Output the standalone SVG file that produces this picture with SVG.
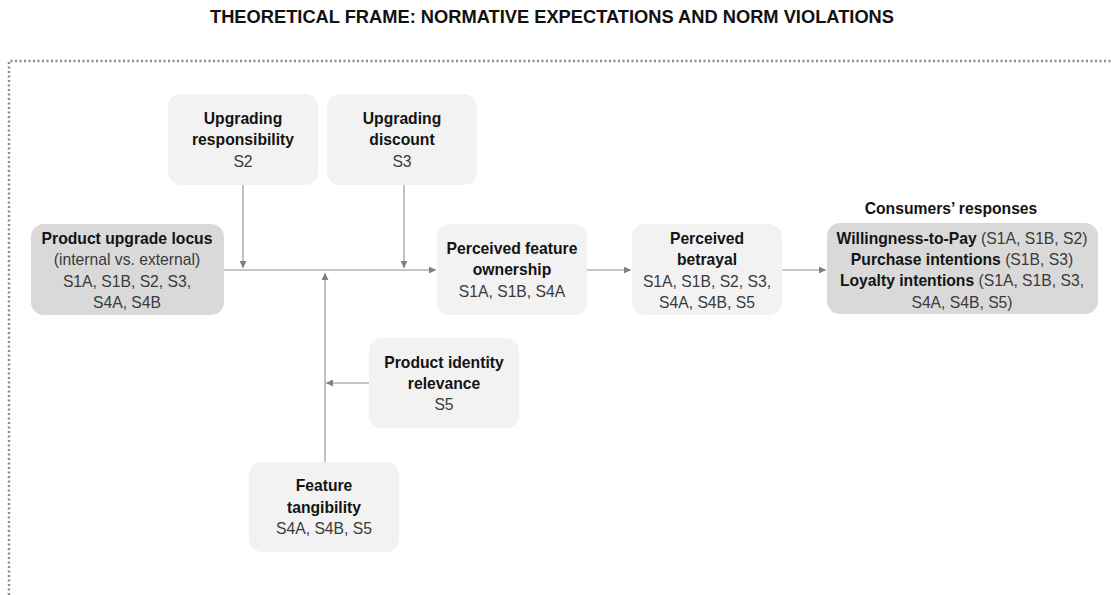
<svg xmlns="http://www.w3.org/2000/svg" width="1111" height="595" viewBox="0 0 1111 595">
<style>
text{font-family:"Liberation Sans",Arial,sans-serif;font-size:15.7px;text-anchor:middle;fill:#3a3a3a}
.b{font-weight:bold;fill:#141414}
.title{font-size:18px;font-weight:bold;fill:#111}
.light{fill:#f2f2f2}
.dark{fill:#d9d9d9}
.ln{stroke:#b3b3b3;stroke-width:1.6;fill:none}
.frame{stroke:#8c8c8c;stroke-width:2.5;stroke-dasharray:2 2.5;fill:none}
</style>
<defs>
<marker id="ah" viewBox="0 0 10 10" refX="10" refY="5" markerWidth="7" markerHeight="7" markerUnits="userSpaceOnUse" orient="auto"><path d="M0,0 L10,5 L0,10 Z" fill="#7f7f7f"/></marker>
</defs>
<rect width="1111" height="595" fill="#fff"/>
<text class="title" x="552" y="23" textLength="684" lengthAdjust="spacingAndGlyphs">THEORETICAL FRAME: NORMATIVE EXPECTATIONS AND NORM VIOLATIONS</text>
<path class="frame" d="M9,595 L9,61 L1111,61"/>

<g id="connectors">
<line class="ln" x1="224" y1="270" x2="436" y2="270" marker-end="url(#ah)"/>
<line class="ln" x1="243" y1="185" x2="243" y2="268" marker-end="url(#ah)"/>
<line class="ln" x1="404" y1="185" x2="404" y2="268" marker-end="url(#ah)"/>
<line class="ln" x1="325" y1="462" x2="325" y2="273" marker-end="url(#ah)"/>
<line class="ln" x1="369" y1="383" x2="326" y2="383" marker-end="url(#ah)"/>
<line class="ln" x1="587" y1="270" x2="631" y2="270" marker-end="url(#ah)"/>
<line class="ln" x1="782" y1="270" x2="826" y2="270" marker-end="url(#ah)"/>
</g>

<g id="upgrading-responsibility">
<rect class="light" x="168" y="94" width="150" height="91" rx="13"/>
<text class="b" x="243" y="124">Upgrading</text>
<text class="b" x="243" y="145">responsibility</text>
<text x="243" y="167">S2</text>
</g>

<g id="upgrading-discount">
<rect class="light" x="327" y="94" width="150" height="91" rx="13"/>
<text class="b" x="402" y="124">Upgrading</text>
<text class="b" x="402" y="145">discount</text>
<text x="402" y="167">S3</text>
</g>

<g id="product-upgrade-locus">
<rect class="dark" x="31" y="224" width="193" height="91" rx="13"/>
<text class="b" x="127" y="244">Product upgrade locus</text>
<text x="127" y="265">(internal vs. external)</text>
<text x="127" y="287">S1A, S1B, S2, S3,</text>
<text x="127" y="308">S4A, S4B</text>
</g>

<g id="perceived-feature-ownership">
<rect class="light" x="437" y="224" width="150" height="91" rx="13"/>
<text class="b" x="512" y="254">Perceived feature</text>
<text class="b" x="512" y="275">ownership</text>
<text x="512" y="297">S1A, S1B, S4A</text>
</g>

<g id="perceived-betrayal">
<rect class="light" x="632" y="224" width="150" height="91" rx="13"/>
<text class="b" x="707" y="244">Perceived</text>
<text class="b" x="707" y="265">betrayal</text>
<text x="707" y="287">S1A, S1B, S2, S3,</text>
<text x="707" y="308">S4A, S4B, S5</text>
</g>

<g id="consumers-responses">
<text class="b" x="951" y="214">Consumers’ responses</text>
<rect class="dark" x="827" y="223" width="271" height="91" rx="13"/>
<text x="962" y="244"><tspan class="b">Willingness-to-Pay</tspan> (S1A, S1B, S2)</text>
<text x="962" y="265"><tspan class="b">Purchase intentions</tspan> (S1B, S3)</text>
<text x="962" y="286"><tspan class="b">Loyalty  intentions</tspan> (S1A, S1B, S3,</text>
<text x="962" y="308">S4A, S4B, S5)</text>
</g>

<g id="product-identity-relevance">
<rect class="light" x="369" y="338" width="150" height="90" rx="13"/>
<text class="b" x="444" y="368">Product identity</text>
<text class="b" x="444" y="389">relevance</text>
<text x="444" y="410">S5</text>
</g>

<g id="feature-tangibility">
<rect class="light" x="249" y="462" width="150" height="90" rx="13"/>
<text class="b" x="324" y="491">Feature</text>
<text class="b" x="324" y="513">tangibility</text>
<text x="324" y="534">S4A, S4B, S5</text>
</g>
</svg>
